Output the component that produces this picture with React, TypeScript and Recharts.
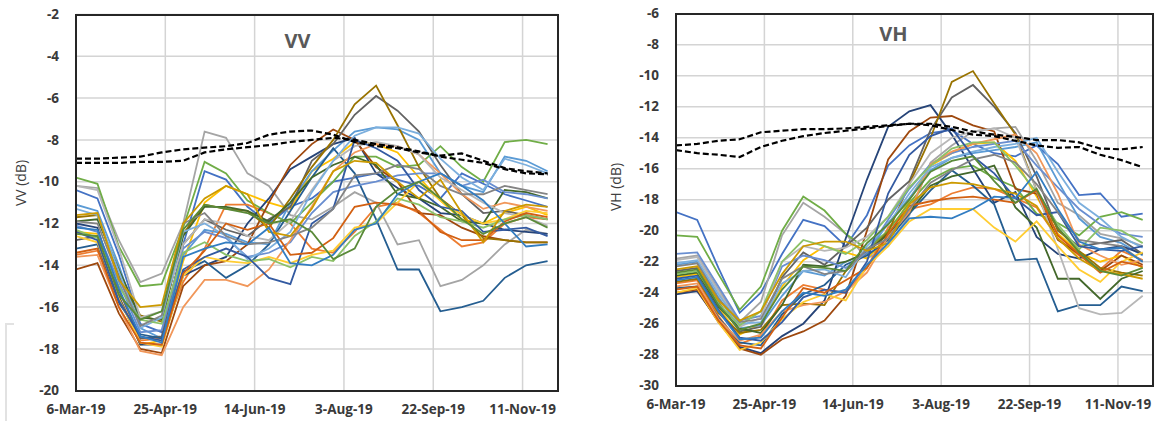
import React from 'react';
import { LineChart, Line, XAxis, YAxis, CartesianGrid } from 'recharts';

// acquisition days, counted from 6-Mar-19 (12-day revisit)
const days = [0, 12, 24, 36, 48, 60, 72, 84, 96, 108, 120, 132, 144, 156, 168, 180, 192, 204, 216, 228, 240, 252, 264];

const xTicks = [0, 50, 100, 150, 200, 250];
const xTickLabels = ['6-Mar-19', '25-Apr-19', '14-Jun-19', '3-Aug-19', '22-Sep-19', '11-Nov-19'];

const vvTicks = [-20, -18, -16, -14, -12, -10, -8, -6, -4, -2];
const vhTicks = [-30, -28, -26, -24, -22, -20, -18, -16, -14, -12, -10, -8, -6];

// Excel default series colours
const colors = [
  '#4472C4', '#ED7D31', '#A5A5A5', '#FFC000', '#5B9BD5', '#70AD47',
  '#264478', '#9E480E', '#636363', '#997300', '#255E91', '#43682B',
  '#698ED0', '#F1975A', '#B7B7B7', '#FFCD33', '#7CAFDD', '#8CC168',
  '#335AA1', '#D26012', '#848484', '#CC9A00', '#327DC2', '#5A8A39',
];

// VV backscatter (dB), one row per field
const vvFields = [
  [-10.4, -10.8, -13.5, -16.8, -17.2, -13.0, -9.5, -9.9, -11.2, -12.0, -11.2, -10.8, -10.0, -9.8, -9.6, -9.9, -10.2, -10.8, -9.6, -10.1, -10.6, -10.9, -11.2],
  [-13.5, -13.3, -15.5, -17.6, -17.5, -14.8, -13.2, -11.1, -11.1, -11.5, -12.0, -13.2, -13.4, -12.4, -11.2, -11.0, -11.5, -12.3, -13.1, -12.9, -12.0, -11.7, -11.8],
  [-10.2, -10.3, -12.8, -14.8, -14.4, -12.0, -7.6, -7.9, -9.6, -10.2, -11.6, -11.8, -11.2, -10.5, -11.0, -13.0, -12.8, -15.0, -14.7, -14.0, -13.0, -12.3, -12.5],
  [-12.4, -12.5, -15.5, -17.8, -17.6, -13.8, -11.0, -10.2, -10.6, -11.0, -11.3, -9.5, -8.9, -8.1, -8.2, -8.6, -9.8, -10.9, -11.8, -12.0, -11.5, -11.2, -11.6],
  [-11.1, -11.4, -14.0, -17.0, -17.5, -13.5, -12.3, -12.5, -12.9, -13.0, -11.0, -9.5, -8.5, -7.6, -7.4, -7.5, -8.0, -9.6, -10.2, -10.5, -8.8, -9.0, -9.5],
  [-9.8, -10.1, -13.1, -15.0, -14.9, -12.2, -9.05, -9.6, -10.9, -11.5, -12.0, -11.0, -10.0, -8.8, -8.8, -9.3, -9.2, -8.3, -9.3, -10.0, -8.1, -8.0, -8.2],
  [-12.0, -12.2, -15.5, -17.8, -17.8, -14.5, -14.0, -13.6, -12.0, -10.8, -9.4, -8.8, -8.2, -7.9, -9.6, -10.3, -10.8, -11.5, -11.6, -12.0, -12.3, -12.4, -12.5],
  [-14.2, -13.9, -16.3, -18.0, -18.2, -15.0, -14.0, -13.8, -13.0, -11.0, -9.2, -8.2, -7.5, -8.0, -9.3, -10.0, -11.5, -11.6, -12.2, -12.6, -12.8, -12.9, -12.9],
  [-12.8, -12.6, -15.2, -17.5, -17.4, -13.0, -11.8, -12.3, -12.6, -11.8, -11.2, -9.0, -8.2, -6.8, -5.9, -6.6, -7.6, -9.2, -10.6, -11.5, -11.4, -11.6, -11.8],
  [-11.7, -11.6, -14.5, -16.4, -16.7, -12.5, -11.1, -11.3, -11.4, -12.2, -10.8, -9.3, -8.0, -6.3, -5.4, -7.3, -9.3, -10.8, -11.6, -12.7, -12.8, -12.9, -12.9],
  [-13.2, -13.0, -15.8, -17.3, -17.5, -14.3, -13.8, -14.6, -14.0, -13.0, -11.4, -9.8, -8.4, -9.6, -11.8, -14.2, -14.2, -16.2, -16.0, -15.7, -14.6, -14.0, -13.8],
  [-11.9, -11.8, -14.2, -16.5, -16.6, -12.6, -11.2, -11.2, -11.4, -11.9, -11.0, -9.8, -9.2, -8.8, -9.2, -10.6, -10.8, -11.2, -11.9, -12.0, -10.4, -10.5, -10.8],
  [-12.1, -12.4, -14.8, -17.2, -17.1, -13.2, -12.4, -12.7, -13.6, -13.4, -12.9, -11.5, -10.5, -10.2, -10.0, -9.7, -9.6, -9.6, -10.2, -9.9, -10.5, -10.6, -10.8],
  [-13.6, -13.5, -16.0, -18.1, -18.3, -16.0, -14.7, -14.7, -15.0, -14.2, -12.8, -11.2, -9.5, -8.6, -8.2, -8.3, -8.7, -9.6, -10.6, -11.3, -11.0, -11.2, -11.4],
  [-10.2, -10.4, -13.2, -16.5, -16.2, -13.0, -11.8, -12.0, -12.6, -12.8, -11.9, -10.4, -9.0, -8.3, -8.1, -8.3, -8.7, -9.8, -10.4, -11.0, -11.5, -11.7, -12.1],
  [-12.6, -12.9, -15.6, -17.7, -17.9, -14.5, -13.6, -13.8, -13.9, -13.6, -13.9, -13.5, -13.3, -12.2, -12.0, -11.0, -10.0, -10.9, -11.6, -12.0, -11.8, -11.4, -11.5],
  [-11.3, -11.6, -14.3, -17.0, -16.5, -12.4, -12.0, -12.6, -13.7, -13.2, -12.4, -10.5, -9.0, -7.8, -7.4, -7.4, -7.7, -8.9, -9.8, -10.4, -8.9, -9.2, -9.6],
  [-12.3, -12.7, -15.0, -16.6, -16.8, -13.4, -12.9, -13.5, -13.8, -13.7, -14.1, -13.6, -13.8, -12.6, -11.9, -10.8, -11.1, -11.7, -11.9, -12.2, -11.8, -11.6, -11.8],
  [-12.4, -12.8, -15.7, -17.4, -17.6, -14.2, -13.6, -13.2, -13.6, -14.6, -14.9, -12.0, -11.3, -8.0, -8.4, -9.0, -10.4, -11.2, -11.4, -12.4, -12.3, -12.2, -12.6],
  [-13.4, -13.2, -16.0, -17.7, -17.8, -14.4, -13.3, -12.0, -12.3, -12.0, -13.5, -13.4, -12.7, -11.2, -11.0, -11.1, -11.4, -12.4, -12.8, -12.8, -11.9, -11.5, -11.7],
  [-11.9, -12.0, -14.6, -16.9, -16.4, -12.0, -11.5, -12.6, -13.0, -12.9, -12.6, -12.2, -11.3, -9.7, -9.6, -9.2, -9.4, -10.2, -10.6, -10.6, -10.2, -10.4, -10.6],
  [-11.6, -11.5, -14.7, -16.0, -15.9, -12.0, -10.8, -10.2, -10.6, -12.4, -12.6, -11.3, -9.5, -9.0, -9.1, -10.0, -10.8, -9.9, -11.5, -12.9, -11.4, -11.1, -11.2],
  [-12.2, -12.3, -15.1, -17.4, -17.7, -13.6, -13.2, -12.9, -13.0, -12.2, -13.9, -14.0, -13.5, -12.3, -12.0, -10.6, -10.0, -9.6, -10.2, -10.9, -12.0, -13.1, -13.0],
  [-12.5, -12.6, -15.4, -16.6, -16.2, -12.3, -11.1, -11.3, -11.5, -12.0, -11.8, -12.4, -13.7, -13.2, -11.2, -10.4, -10.0, -10.8, -11.8, -12.5, -12.0, -11.7, -12.2],
];

// VV reference curves (black dashed)
const vvRefA = [-8.9, -8.9, -8.85, -8.8, -8.6, -8.45, -8.37, -8.3, -8.15, -7.75, -7.6, -7.55, -7.75, -8.1, -8.3, -8.4, -8.6, -8.75, -8.65, -9.0, -9.35, -9.5, -9.6];
const vvRefB = [-9.1, -9.1, -9.1, -9.05, -9.05, -9.0, -8.6, -8.45, -8.35, -8.25, -8.1, -8.0, -7.9, -8.0, -8.2, -8.35, -8.55, -8.8, -8.95, -9.1, -9.4, -9.6, -9.65];

// VH backscatter (dB), one row per field
const vhFields = [
  [-18.8, -19.3, -22.4, -25.3, -24.0, -21.5, -19.3, -19.7, -21.0, -19.0, -15.8, -14.5, -13.7, -13.5, -14.4, -15.0, -15.2, -14.5, -15.7, -17.7, -17.6, -19.1, -18.9],
  [-23.4, -23.2, -25.5, -27.3, -26.8, -24.5, -23.5, -23.8, -24.0, -22.4, -19.8, -18.6, -18.3, -17.6, -17.2, -17.3, -17.9, -18.5, -20.5, -21.6, -22.5, -21.3, -21.9],
  [-21.8, -21.6, -23.8, -25.9, -24.6, -20.3, -18.2, -19.1, -20.2, -21.8, -21.0, -19.0, -15.6, -14.5, -13.6, -13.4, -13.3, -15.5, -18.2, -19.0, -20.2, -20.5, -21.0],
  [-23.0, -22.8, -25.0, -26.7, -26.0, -23.6, -21.9, -21.0, -21.4, -21.8, -20.4, -18.0, -15.8, -15.0, -14.4, -14.3, -15.5, -17.8, -20.2, -21.4, -22.0, -21.6, -22.4],
  [-22.2, -22.0, -24.3, -26.3, -26.1, -24.2, -22.6, -22.9, -22.0, -21.5, -19.5, -17.9, -16.1, -15.3, -15.0, -14.8, -14.6, -14.3, -16.8, -19.2, -20.4, -20.8, -21.6],
  [-20.3, -20.4, -22.8, -25.1, -23.6, -20.0, -17.8, -18.7, -20.2, -21.2, -20.0, -18.2, -16.7, -16.0, -15.8, -16.6, -17.2, -18.9, -19.5, -20.3, -19.1, -18.8, -19.3],
  [-24.1, -23.9, -25.8, -27.5, -27.9, -26.8, -26.0, -24.5, -20.5, -16.7, -13.3, -12.3, -11.9, -13.8, -16.0, -18.2, -17.5, -20.4, -21.5, -21.8, -21.2, -21.0, -21.5],
  [-24.0, -23.8, -25.9, -27.6, -28.0, -27.0, -26.5, -25.8, -24.2, -20.0, -15.4, -13.6, -12.7, -12.6, -13.2, -13.6, -17.3, -17.6, -20.6, -21.5, -22.6, -21.6, -22.2],
  [-22.6, -22.4, -24.6, -26.5, -26.2, -23.0, -21.4, -22.2, -21.0, -19.8, -18.0, -16.8, -13.5, -11.4, -10.6, -12.0, -13.7, -16.5, -20.0, -21.0, -20.8, -20.6, -21.5],
  [-23.3, -23.1, -25.3, -26.6, -26.4, -24.8, -24.7, -24.8, -22.6, -21.4, -20.1, -17.0, -14.0, -10.4, -9.7, -11.8, -13.8, -17.4, -19.9, -21.3, -22.4, -22.7, -22.9],
  [-23.7, -23.6, -25.6, -27.2, -27.4, -25.4, -24.1, -23.5, -22.2, -21.6, -20.6, -18.9, -17.4, -16.1, -17.1, -18.3, -21.9, -21.8, -25.2, -24.8, -24.8, -23.6, -23.9],
  [-22.9, -22.7, -24.9, -26.3, -26.6, -24.8, -22.2, -22.3, -22.0, -21.4, -20.2, -18.8, -17.1, -16.5, -16.2, -15.8, -18.5, -19.8, -23.1, -23.1, -24.4, -23.1, -22.6],
  [-21.5, -21.4, -23.6, -25.8, -25.5, -22.3, -21.6, -21.9, -22.4, -21.4, -19.3, -17.3, -15.7, -15.0, -14.6, -14.4, -14.2, -15.8, -17.2, -18.6, -19.6, -20.2, -20.4],
  [-23.6, -23.4, -25.7, -27.1, -26.7, -25.2, -24.8, -24.6, -23.9, -22.7, -20.4, -18.8, -15.7, -14.9, -14.4, -14.1, -13.8, -15.0, -17.6, -20.9, -21.6, -22.2, -21.9],
  [-21.9, -21.7, -23.9, -26.2, -25.6, -22.0, -21.0, -21.3, -21.1, -20.4, -19.1, -17.0, -15.0, -14.0, -13.6, -13.4, -14.0, -17.4, -21.2, -25.0, -25.4, -25.3, -24.2],
  [-24.0, -23.7, -25.9, -27.7, -27.2, -25.7, -24.6, -24.1, -24.5, -22.3, -21.0, -19.4, -18.6, -18.6, -18.6, -19.8, -20.7, -19.4, -21.0, -22.5, -23.3, -22.0, -21.4],
  [-22.1, -21.9, -24.1, -26.0, -25.9, -23.4, -22.6, -22.5, -23.0, -21.0, -19.6, -17.6, -15.9, -15.3, -14.9, -14.6, -14.4, -14.0, -16.2, -18.2, -19.2, -20.4, -21.1],
  [-22.8, -22.6, -24.7, -26.1, -25.2, -22.0, -20.6, -21.0, -21.5, -20.6, -19.1, -17.2, -15.8, -14.7, -14.3, -14.3, -15.8, -17.5, -19.6, -21.2, -19.8, -20.0, -20.8],
  [-23.1, -22.9, -25.1, -26.9, -27.1, -25.9, -24.3, -23.8, -24.0, -22.0, -17.6, -15.1, -13.9, -13.4, -15.2, -16.3, -17.9, -19.0, -18.8, -21.0, -21.2, -21.3, -21.0],
  [-23.8, -23.6, -25.8, -27.4, -27.6, -25.6, -23.7, -24.0, -23.2, -22.4, -20.2, -18.4, -18.1, -17.9, -17.8, -18.0, -18.2, -17.4, -20.3, -21.5, -22.7, -22.0, -22.3],
  [-22.3, -22.1, -24.4, -25.9, -25.7, -23.1, -22.3, -22.8, -22.6, -21.2, -20.5, -18.6, -16.9, -16.1, -15.4, -15.1, -15.6, -17.0, -18.8, -20.6, -20.8, -21.0, -22.0],
  [-22.5, -22.3, -24.5, -25.8, -25.2, -22.8, -21.0, -20.7, -20.7, -21.3, -20.8, -18.3, -17.2, -16.9, -17.0, -17.3, -17.6, -18.4, -20.5, -21.8, -22.6, -22.8, -23.1],
  [-23.2, -23.0, -25.2, -27.0, -26.9, -25.2, -24.0, -24.2, -23.8, -22.2, -20.8, -19.2, -19.1, -19.2, -18.6, -17.8, -17.9, -16.2, -18.6, -20.7, -21.2, -21.1, -22.0],
  [-22.7, -22.5, -24.8, -26.4, -26.0, -23.8, -22.3, -22.4, -22.6, -20.8, -19.6, -18.0, -16.2, -15.5, -15.2, -16.8, -18.2, -17.3, -19.8, -21.4, -22.6, -22.9, -22.4],
];

// VH reference curves (black dashed)
const vhRefA = [-14.5, -14.4, -14.2, -14.1, -13.65, -13.55, -13.45, -13.45, -13.4, -13.3, -13.2, -13.1, -13.1, -13.3, -13.6, -13.8, -13.95, -14.15, -14.15, -14.3, -14.7, -14.75, -14.6];
const vhRefB = [-14.8, -15.0, -15.1, -15.25, -14.6, -14.2, -13.9, -13.7, -13.55, -13.4, -13.25, -13.1, -13.2, -13.5, -13.8, -13.9, -14.2, -14.5, -14.65, -14.6, -15.1, -15.45, -15.9];

const tickStyle = { fill: '#3a3a3a', fontSize: 13.5, fontWeight: 700, fontFamily: 'Open Sans' };

function buildRows(fields: number[][], refs: number[][]) {
  return days.map((day, i) => {
    const row: any = { day };
    fields.forEach((f, k) => { row['s' + k] = f[i]; });
    refs.forEach((r, k) => { row['r' + k] = r[i]; });
    return row;
  });
}

function Panel({ width, margin, fields, refs, yDomain, yTicks }: any) {
  const rows = buildRows(fields, refs);
  return (
    <LineChart width={width} height={421} data={rows} margin={margin}>
      <CartesianGrid stroke="#d4d4d4" strokeWidth={1.5} />
      <XAxis
        type="number"
        dataKey="day"
        domain={[0, 270]}
        ticks={xTicks}
        interval={0}
        tickFormatter={(v: number) => xTickLabels[xTicks.indexOf(v)]}
        axisLine={false}
        tickLine={false}
        tickSize={0}
        tickMargin={14}
        height={30}
        tick={tickStyle}
        allowDataOverflow
      />
      <YAxis
        type="number"
        domain={yDomain}
        ticks={yTicks}
        interval={0}
        width={60}
        axisLine={false}
        tickLine={false}
        tickSize={0}
        tickMargin={17}
        tick={tickStyle}
        allowDataOverflow
      />
      {fields.map((_: number[], k: number) => (
        <Line
          key={'s' + k}
          type="linear"
          dataKey={'s' + k}
          stroke={colors[k % colors.length]}
          strokeWidth={1.8}
          dot={false}
          isAnimationActive={false}
        />
      ))}
      {refs.map((_: number[], k: number) => (
        <Line
          key={'r' + k}
          type="linear"
          dataKey={'r' + k}
          stroke="#000"
          strokeWidth={2.2}
          strokeDasharray="6 3"
          dot={false}
          isAnimationActive={false}
        />
      ))}
    </LineChart>
  );
}

export default function App() {
  const title = { position: 'absolute' as const, transform: 'translate(-50%, -50%)', fontFamily: 'Open Sans', fontWeight: 700, fontSize: 20, color: '#595959', whiteSpace: 'nowrap' as const };
  const yLabel = { position: 'absolute' as const, transform: 'translate(-50%, -50%) rotate(-90deg)', fontFamily: 'Open Sans', fontSize: 14, color: '#404040', whiteSpace: 'nowrap' as const };
  return (
    <div style={{ position: 'absolute', left: 0, top: 0, width: 1159, height: 421, background: '#fff', overflow: 'hidden' }}>
      <div style={{ position: 'absolute', left: 0, top: 0 }}>
        <Panel
          width={580}
          margin={{ top: 14.5, right: 21.7, left: 16, bottom: 0.3 }}
          fields={vvFields}
          refs={[vvRefA, vvRefB]}
          yDomain={[-20, -2]}
          yTicks={vvTicks}
        />
      </div>
      <div style={{ position: 'absolute', left: 580, top: 0 }}>
        <Panel
          width={579}
          margin={{ top: 13.7, right: 5.7, left: 36, bottom: 5.3 }}
          fields={vhFields}
          refs={[vhRefA, vhRefB]}
          yDomain={[-30, -6]}
          yTicks={vhTicks}
        />
      </div>
      {/* plot frames */}
      <div style={{ position: 'absolute', left: 75, top: 13.5, width: 484.3, height: 378.2, border: '2px solid #262626', boxSizing: 'border-box' }} />
      <div style={{ position: 'absolute', left: 675, top: 12.7, width: 479.3, height: 374, border: '2px solid #262626', boxSizing: 'border-box' }} />
      <div style={{ ...title, left: 297.5, top: 40 }}>VV</div>
      <div style={{ ...title, left: 893.5, top: 33 }}>VH</div>
      <div style={{ ...yLabel, left: 20, top: 183 }}>VV (dB)</div>
      <div style={{ ...yLabel, left: 615, top: 187 }}>VH (dB)</div>
      {/* faint scan edge at lower left */}
      <div style={{ position: 'absolute', left: 5, top: 323, width: 7, height: 98, borderTop: '2px solid #e2e2e2', borderLeft: '2px solid #e2e2e2' }} />
    </div>
  );
}
